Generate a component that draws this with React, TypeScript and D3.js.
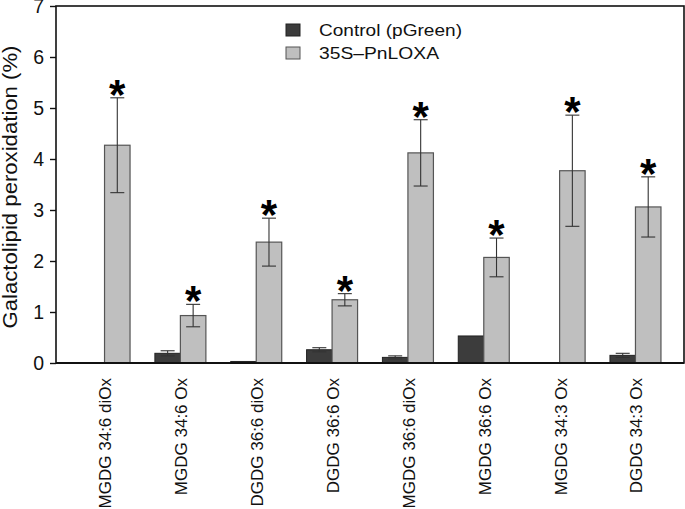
import { useEffect, useRef } from "react";
import * as d3 from "d3";

const categories = [
  "MGDG 34:6 diOx",
  "MGDG 34:6 Ox",
  "DGDG 36:6 diOx",
  "DGDG 36:6 Ox",
  "MGDG 36:6 diOx",
  "MGDG 36:6 Ox",
  "MGDG 34:3 Ox",
  "DGDG 34:3 Ox",
];
const seriesNames = ["Control (pGreen)", "35S\u2013PnLOXA"];
// null = not detected
const controlValues: (number | null)[] = [null, 0.19, 0.03, 0.26, 0.11, 0.53, null, 0.15];
const controlErrors: (number | null)[] = [null, 0.05, null, 0.04, 0.03, null, null, 0.04];
const loxaValues = [4.27, 0.93, 2.37, 1.24, 4.12, 2.07, 3.77, 3.06];
const loxaErrors = [0.93, 0.22, 0.47, 0.12, 0.65, 0.38, 1.09, 0.59];
const significant = [true, true, true, true, true, true, true, true];
const yTicks = [0, 1, 2, 3, 4, 5, 6, 7];

const DARK = "#3c3c3c";
const LIGHT = "#bfbfbf";
const FONT = "'Liberation Sans', Arial, sans-serif";

function App() {
  const svgRef = useRef<SVGSVGElement>(null);

  useEffect(() => {
    if (!svgRef.current) return;
    const root = d3.select(svgRef.current);
    root.selectAll("*").remove();

    const margin = { top: 6, right: 1, bottom: 146, left: 56 };
    const width = 685 - margin.left - margin.right;
    const height = 509 - margin.top - margin.bottom;

    const svg = root
      .append("g")
      .attr("transform", `translate(${margin.left},${margin.top})`);

    const x = d3.scalePoint<string>().domain(categories).range([0, width]).padding(0.64);
    const y = d3.scaleLinear().domain([0, 7]).range([height, 0]);
    const barW = 25.5;

    // frame
    svg
      .append("rect")
      .attr("width", width)
      .attr("height", height)
      .attr("fill", "none")
      .attr("stroke", "#111")
      .attr("stroke-width", 1.6);

    // y axis
    const yAxis = svg
      .append("g")
      .call(d3.axisLeft(y).tickValues(yTicks).tickSize(6).tickPadding(6).tickFormat(d3.format("d")));
    yAxis.select(".domain").remove();
    yAxis.selectAll(".tick line").attr("stroke", "#111").attr("stroke-width", 1.4);
    yAxis
      .selectAll(".tick text")
      .attr("font-family", FONT)
      .attr("font-size", 19.5)
      .attr("fill", "#111");

    svg
      .append("text")
      .attr("transform", `translate(${-39},${181}) rotate(-90)`)
      .attr("text-anchor", "middle")
      .attr("font-family", FONT)
      .attr("font-size", 19.5)
      .attr("textLength", 283)
      .attr("lengthAdjust", "spacingAndGlyphs")
      .attr("fill", "#111")
      .text("Galactolipid peroxidation (%)");

    // x labels
    categories.forEach((c) => {
      svg
        .append("text")
        .attr("transform", `translate(${x(c)! + 1},${height + 15}) rotate(-90)`)
        .attr("text-anchor", "end")
        .attr("dy", "0.35em")
        .attr("font-family", FONT)
        .attr("font-size", 17)
        .attr("fill", "#111")
        .text(c);
    });

    const drawErr = (cx: number, v: number, e: number) => {
      const g = svg.append("g").attr("stroke", "#333").attr("stroke-width", 1.1);
      g.append("line").attr("x1", cx).attr("x2", cx).attr("y1", y(v - e)).attr("y2", y(v + e));
      g.append("line").attr("x1", cx - 7).attr("x2", cx + 7).attr("y1", y(v + e)).attr("y2", y(v + e));
      g.append("line").attr("x1", cx - 7).attr("x2", cx + 7).attr("y1", y(v - e)).attr("y2", y(v - e));
    };

    categories.forEach((c, i) => {
      const cx = x(c)!;
      const cv = controlValues[i];
      if (cv !== null) {
        svg
          .append("rect")
          .attr("x", cx - barW)
          .attr("y", y(cv))
          .attr("width", barW)
          .attr("height", y(0) - y(cv))
          .attr("fill", DARK)
          .attr("stroke", "#222")
          .attr("stroke-width", 1);
        const ce = controlErrors[i];
        if (ce !== null) drawErr(cx - barW / 2, cv, ce);
      }
      const lv = loxaValues[i];
      svg
        .append("rect")
        .attr("x", cx)
        .attr("y", y(lv))
        .attr("width", barW)
        .attr("height", y(0) - y(lv))
        .attr("fill", LIGHT)
        .attr("stroke", "#555")
        .attr("stroke-width", 1.2);
      drawErr(cx + barW / 2, lv, loxaErrors[i]);
      if (significant[i]) {
        svg
          .append("text")
          .attr("x", cx + barW / 2)
          .attr("y", y(lv + loxaErrors[i]) + 11)
          .attr("text-anchor", "middle")
          .attr("font-family", FONT)
          .attr("font-weight", "bold")
          .attr("font-size", 42)
          .attr("fill", "#000")
          .text("*");
      }
    });

    // bottom axis line on top of bars
    svg
      .append("line")
      .attr("x1", 0)
      .attr("x2", width)
      .attr("y1", height)
      .attr("y2", height)
      .attr("stroke", "#111")
      .attr("stroke-width", 1.8);

    // legend
    const legend = svg.append("g").attr("transform", `translate(${286 - margin.left},${24 - margin.top})`);
    const legendLen = [143, 120];
    seriesNames.forEach((name, i) => {
      const row = legend.append("g").attr("transform", `translate(0,${i * 23})`);
      row
        .append("rect")
        .attr("width", 14)
        .attr("height", 12)
        .attr("fill", i === 0 ? DARK : LIGHT)
        .attr("stroke", i === 0 ? "#222" : "#555")
        .attr("stroke-width", 1);
      row
        .append("text")
        .attr("x", 33)
        .attr("y", 12)
        .attr("font-family", FONT)
        .attr("font-size", 17)
        .attr("textLength", legendLen[i])
        .attr("lengthAdjust", "spacingAndGlyphs")
        .attr("fill", "#111")
        .text(name);
    });
  }, []);

  return (
    <div style={{ position: "absolute", left: 0, top: 0 }}>
      <svg ref={svgRef} width={685} height={509} style={{ display: "block", background: "#fff" }}></svg>
    </div>
  );
}

export default App;
